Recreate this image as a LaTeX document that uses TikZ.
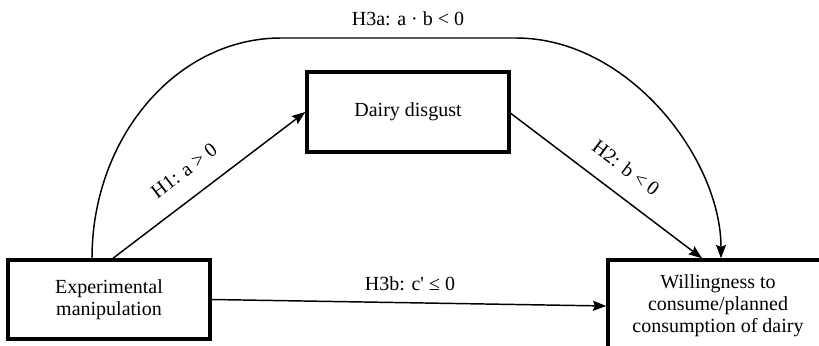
\documentclass[tikz,border=0pt]{standalone}
\usepackage{fontspec}
\setmainfont{Liberation Serif}
\usetikzlibrary{arrows.meta,calc}
\tikzset{
  box/.style={draw=black, line width=2.6pt, fill=white, align=center, inner sep=0pt,
              font=\fontsize{15}{16.5}\selectfont},
  conn/.style={draw=black, line width=1.1pt, -{Stealth[length=10pt,width=7.5pt,inset=1.5pt]}},
  lbl/.style={font=\fontsize{15}{16.5}\selectfont, inner sep=1pt}
}
\begin{document}
\begin{tikzpicture}[x=0.75pt,y=-0.75pt]
\path[use as bounding box] (0,0) rectangle (819,346);
\clip (0,0) rectangle (819,346);
\node[box, minimum width=151.5pt, minimum height=59.25pt] (exp) at (109,299.5) {Experimental\\manipulation};
\node[box, minimum width=151.5pt, minimum height=60pt] (dairy) at (408,112) {Dairy disgust};
\node[box, minimum width=165pt, minimum height=69pt] (will) at (718,306) {Willingness to\\consume/planned\\consumption of dairy};
% H1
\draw[conn] ([xshift=3pt]exp.north) -- ([yshift=0pt]dairy.west);
% H2
\draw[conn] ([yshift=-1pt]dairy.east) -- ([xshift=-12pt]will.north);
% H3b
\draw[conn] (exp.east) -- (will.west);
% H3a arc
\coordinate (arcstart) at ([xshift=-12.75pt]exp.north);
\coordinate (arcend) at ([xshift=2.25pt]will.north);
\draw[conn] (arcstart) .. controls (92,137.4) and (176.6,38) .. (281,38) -- (516,38)
   .. controls (629.2,38) and (721,159.5) .. (arcend);
% labels
\node[lbl] (l3a) at (408,19) {H3a: a · b < 0};
\node[lbl] (l3b) at (410,284) {H3b: c\textquotesingle{} ≤ 0};
\node[lbl, rotate=37.4] (l1) at (184,171) {H1: a > 0};
\node[lbl, rotate=-37] (l2) at (626,168) {H2: b < 0};
\end{tikzpicture}
\end{document}
